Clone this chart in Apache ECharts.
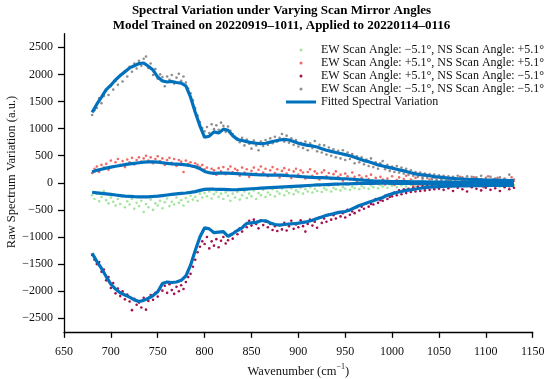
<!DOCTYPE html>
<html><head><meta charset="utf-8">
<script src="https://cdn.jsdelivr.net/npm/echarts@6/dist/echarts.min.js"></script>
<style>html,body{margin:0;padding:0;background:#fff}#c{width:550px;height:379px}</style>
</head><body><div id="c"></div><script>
// ---- data ----
const titleLines = ['Spectral Variation under Varying Scan Mirror Angles', 'Model Trained on 20220919\u20131011, Applied to 20220114\u20130116'];
const seriesNames = [
  'EW Scan Angle: \u22125.1\u00b0, NS Scan Angle: +5.1\u00b0',
  'EW Scan Angle: +5.1\u00b0, NS Scan Angle: +5.1\u00b0',
  'EW Scan Angle: +5.1\u00b0, NS Scan Angle: \u22125.1\u00b0',
  'EW Scan Angle: \u22125.1\u00b0, NS Scan Angle: \u22125.1\u00b0'
];
const fitName = 'Fitted Spectral Variation';
const yTicks = [-2500,-2000,-1500,-1000,-500,0,500,1000,1500,2000,2500];

const wavenumberFit = [680,685,690,695,700,705,710,715,720,725,
730,735,740,745,750,755,760,765,770,775,
780,785,790,795,800,805,810,815,820,825,
830,835,840,845,850,855,860,865,870,875,
880,885,890,895,900,905,910,915,920,925,
930,935,940,945,950,955,960,965,970,975,
980,985,990,995,1000,1005,1010,1015,1020,1025,
1030,1035,1040,1045,1050,1055,1060,1065,1070,1075,
1080,1085,1090,1095,1100,1105,1110,1115,1120,1125,
1130];

const wavenumberPts = [680,682.5,685,687.5,690,692.5,695,697.5,700,702.5,
705,707.5,710,712.5,715,717.5,720,722.5,725,727.5,
730,732.5,735,737.5,740,742.5,745,747.5,750,752.5,
755,757.5,760,762.5,765,767.5,770,772.5,775,777.5,
780,782.5,785,787.5,790,792.5,795,797.5,800,802.5,
805,807.5,810,812.5,815,817.5,820,822.5,825,827.5,
830,832.5,835,837.5,840,842.5,845,847.5,850,852.5,
855,857.5,860,862.5,865,867.5,870,872.5,875,877.5,
880,882.5,885,887.5,890,892.5,895,897.5,900,902.5,
905,907.5,910,912.5,915,917.5,920,922.5,925,927.5,
930,932.5,935,937.5,940,942.5,945,947.5,950,952.5,
955,957.5,960,962.5,965,967.5,970,972.5,975,977.5,
980,982.5,985,987.5,990,992.5,995,997.5,1000,1002.5,
1005,1007.5,1010,1012.5,1015,1017.5,1020,1022.5,1025,1027.5,
1030,1032.5,1035,1037.5,1040,1042.5,1045,1047.5,1050,1052.5,
1055,1057.5,1060,1062.5,1065,1067.5,1070,1072.5,1075,1077.5,
1080,1082.5,1085,1087.5,1090,1092.5,1095,1097.5,1100,1102.5,
1105,1107.5,1110,1112.5,1115,1117.5,1120,1122.5,1125,1127.5,
1130];

// raw points: EW -5.1, NS +5.1 (green)
const ptsGreen = [-230,-300,-200,-340,-260,-150,-320,-380,-270,-350,
-420,-300,-390,-250,-450,-340,-400,-300,-480,-370,
-430,-330,-540,-390,-450,-310,-500,-380,-420,-330,
-470,-360,-290,-430,-350,-400,-270,-370,-320,-420,
-280,-350,-240,-310,-260,-330,-200,-270,-190,-250,
-160,-290,-210,-170,-260,-200,-300,-180,-240,-330,
-200,-270,-170,-310,-230,-160,-280,-200,-250,-140,
-300,-190,-230,-130,-260,-180,-220,-120,-250,-160,
-200,-110,-230,-150,-190,-100,-210,-140,-170,-90,
-200,-120,-160,-80,-180,-110,-150,-60,-170,-100,
-130,-50,-160,-90,-120,-40,-140,-80,-110,-30,
-130,-70,-100,-20,-120,-60,-90,-10,-110,-50,
-80,0,-100,-40,-70,10,-90,-30,-60,20,
-80,-20,-50,30,-70,-10,-40,40,-60,0,
-30,50,-50,10,-20,40,-40,20,-10,50,
-30,30,-60,20,-20,40,-50,10,-30,50,
-40,0,-70,30,-20,40,-60,10,-30,30,
-50,0,-40,20,-70,10,-30,40,-50,-10,
-40];

// raw points: EW +5.1, NS +5.1 (red)
const ptsRed = [180,260,300,200,330,280,350,240,410,300,
380,440,330,400,290,430,380,460,340,420,
470,390,450,500,410,470,360,440,490,400,
450,330,420,460,370,440,310,420,390,200,
410,350,380,300,360,330,290,330,250,280,
200,260,230,150,270,210,290,160,250,300,
200,260,230,130,280,190,250,110,220,280,
170,240,300,190,260,120,230,290,180,250,
100,220,270,170,240,90,210,260,150,230,
190,80,200,250,130,210,170,60,190,230,
120,180,70,160,210,110,150,40,170,120,
60,190,110,20,140,90,0,120,70,150,
30,90,-20,110,60,-30,80,20,120,-40,
50,100,-10,70,130,0,60,-60,90,20,
-30,80,140,10,60,-50,100,30,-20,70,
120,-10,50,-70,90,20,-40,110,40,-20,
80,0,-60,100,30,-30,70,-80,50,120,
-10,60,-50,90,20,-40,80,10,-70,100,
40];

// raw points: EW +5.1, NS -5.1 (crimson)
const ptsCrimson = [-1330,-1420,-1500,-1460,-1640,-1600,-1800,-1740,-1940,-1850,
-2040,-1950,-2090,-2000,-2150,-2060,-2190,-2350,-2140,-2250,
-2210,-2300,-2120,-2340,-2180,-2070,-2160,-2030,-2100,-1960,
-1990,-1900,-2030,-1870,-1980,-2050,-1920,-2000,-1890,-1960,
-1830,-1740,-1680,-1550,-1420,-1280,-1180,-1080,-1130,-1000,
-1210,-1080,-1160,-1040,-1190,-1070,-1000,-1120,-1060,-960,
-1030,-900,-950,-840,-900,-780,-820,-700,-790,-680,
-760,-840,-690,-780,-720,-820,-760,-870,-800,-890,
-780,-860,-740,-880,-800,-700,-850,-770,-820,-690,
-800,-900,-760,-680,-790,-720,-830,-640,-740,-660,
-720,-590,-680,-600,-660,-540,-620,-560,-640,-500,
-590,-530,-560,-450,-510,-440,-480,-380,-440,-390,
-400,-300,-370,-320,-330,-240,-300,-260,-250,-180,
-230,-140,-210,-120,-190,-110,-170,-90,-160,-70,
-150,-60,-140,-50,-130,-40,-120,-30,-110,-20,
-130,-40,-100,-10,-150,-30,-90,0,-120,-40,
-160,-20,-80,10,-110,-50,-140,-10,-90,-30,
-130,0,-100,-40,-150,-20,-80,10,-120,-60,
-90];

// raw points: EW -5.1, NS -5.1 (gray)
const ptsGray = [1250,1340,1380,1560,1470,1600,1700,1620,1790,1720,
1880,1810,1990,1870,2060,1960,2140,2050,2200,2110,
2250,2160,2290,2330,2120,2200,1990,2100,1920,2000,
1950,1780,1960,1900,1990,1830,1940,2010,1880,1960,
1850,1740,1650,1520,1380,1240,1120,1010,950,1030,
920,1080,990,1060,980,1110,1050,940,1040,960,
900,850,820,750,830,690,800,720,630,780,
690,600,760,680,790,700,820,730,850,760,
830,900,760,870,740,820,700,790,670,740,
640,760,600,730,640,770,580,700,560,690,
520,650,500,620,470,590,450,600,420,560,
440,530,360,490,380,470,340,430,310,450,
290,380,260,360,400,250,330,220,300,200,
310,190,280,170,260,150,230,130,200,110,
190,100,170,90,160,70,150,60,140,50,
130,40,120,30,110,20,130,10,100,30,
120,0,110,20,100,-10,130,10,90,-20,
110,0,80,-30,100,10,70,-20,150,0,
60];

// fitted curves
const fitGreen = [-175,-185,-195,-205,-215,-225,-235,-245,-250,-255,
-258,-260,-258,-252,-245,-235,-225,-215,-205,-195,
-188,-178,-162,-140,-122,-115,-118,-120,-122,-125,
-128,-125,-120,-115,-110,-105,-100,-95,-90,-85,
-80,-75,-70,-65,-60,-55,-50,-45,-40,-36,
-32,-28,-25,-22,-20,-18,-15,-13,-11,-10,
-9,-8,-8,-8,-9,-10,-10,-11,-12,-12,
-13,-14,-15,-15,-16,-17,-18,-18,-19,-20,
-20,-20,-21,-22,-22,-23,-24,-24,-25,-25,
-25];
const fitRed = [200,230,250,270,290,305,320,335,350,360,
370,380,385,385,380,370,360,350,345,340,
330,315,295,260,210,185,175,180,178,180,
172,168,162,160,155,150,148,145,143,140,
140,136,130,125,118,112,106,100,96,94,
90,86,82,78,75,70,62,55,48,42,
37,33,30,27,24,22,20,20,18,18,
16,16,15,15,15,15,15,15,15,15,
15,15,15,15,15,15,15,15,15,15,
15];
const fitCrimson = [-1300,-1450,-1580,-1730,-1870,-1960,-2030,-2070,-2110,-2160,
-2190,-2170,-2130,-2080,-2010,-1860,-1830,-1840,-1830,-1800,
-1720,-1520,-1250,-1000,-830,-850,-920,-910,-900,-990,
-940,-880,-830,-750,-740,-730,-700,-700,-740,-770,
-780,-770,-760,-755,-745,-730,-715,-690,-660,-630,
-600,-580,-560,-540,-530,-500,-460,-420,-390,-360,
-330,-300,-270,-230,-200,-180,-160,-140,-130,-115,
-100,-90,-80,-75,-70,-65,-62,-60,-58,-56,
-55,-54,-53,-52,-51,-50,-50,-50,-50,-50,
-50];
const fitGray = [1300,1450,1580,1720,1800,1900,1980,2050,2120,2160,
2200,2210,2150,2080,1950,1880,1860,1870,1850,1840,
1790,1580,1300,1050,840,860,940,920,990,970,
870,800,780,760,740,730,720,730,750,770,
790,800,790,760,730,710,690,680,660,630,
600,580,560,540,520,500,470,440,410,390,
360,330,310,290,270,250,230,210,185,165,
150,140,130,115,105,95,85,80,75,70,
65,60,58,55,52,50,48,45,45,42,
40];

// ---- chart ----
const FONT = '"Liberation Serif","Times New Roman",serif';
const TXT = '#111';
const ptColors = ['#a2e59c', '#ee6a64', '#a3124f', '#8e8e8e'];
const BLUE = '#0072BD';
function zip(xs, ys) { return xs.map((x, i) => [x, ys[i]]); }

const ptsAll = [ptsGreen, ptsRed, ptsCrimson, ptsGray];
const fitsAll = [fitGreen, fitRed, fitCrimson, fitGray];

const series = [];
ptsAll.forEach((p, k) => {
  series.push({
    type: 'scatter', name: seriesNames[k], data: zip(wavenumberPts, p),
    symbol: 'circle', symbolSize: 2.6, itemStyle: { color: ptColors[k], opacity: 1 },
    z: 2, silent: true
  });
});
fitsAll.forEach((f) => {
  series.push({
    type: 'line', name: fitName, data: zip(wavenumberFit, f),
    symbol: 'none', showSymbol: false, smooth: false,
    lineStyle: { color: BLUE, width: 3.2 }, itemStyle: { color: BLUE },
    z: 3, silent: true
  });
});

// legend icons (box 30 x 13): small dot, and a short thick bar for the fitted line
const dotIcon = 'path://M0,0 M30,13 M13.5,6.5 a1.5,1.5 0 1,0 3,0 a1.5,1.5 0 1,0 -3,0 Z';
const barIcon = 'path://M0,0 M30,13 M0,5 L30,5 L30,8 L0,8 Z';
const legendData = seriesNames.map(n => ({ name: n, icon: dotIcon })).concat([{ name: fitName, icon: barIcon }]);

const chart = echarts.init(document.getElementById('c'), null, { renderer: 'canvas' });
chart.setOption({
  animation: false,
  backgroundColor: '#fff',
  grid: { left: 64, right: 17.3, top: 33.75, bottom: 47.15, containLabel: false, outerBoundsMode: 'none' },
  xAxis: {
    type: 'value', min: 650, max: 1150, interval: 50,
    axisLine: { onZero: false, lineStyle: { color: '#000', width: 1.3 } },
    axisTick: { length: 6, lineStyle: { color: '#000', width: 1.3 } },
    axisLabel: { color: TXT, fontFamily: FONT, fontSize: 12, margin: 14, formatter: v => String(v) },
    splitLine: { show: false },
    name: '{n|Wavenumber (cm}{s|\u22121}{n|)}', nameLocation: 'middle', nameGap: 25,
    nameTextStyle: {
      rich: {
        n: { fontFamily: FONT, fontSize: 12.5, color: TXT, lineHeight: 15, verticalAlign: 'bottom' },
        s: { fontFamily: FONT, fontSize: 8, color: TXT, lineHeight: 15, verticalAlign: 'top' }
      }
    }
  },
  yAxis: {
    type: 'value', min: -2750, max: 2750,
    axisLine: { show: true, onZero: false, lineStyle: { color: '#000', width: 1.3 } },
    axisTick: { show: true, length: 6, customValues: yTicks, lineStyle: { color: '#000', width: 1.3 } },
    axisLabel: { customValues: yTicks, color: TXT, fontFamily: FONT, fontSize: 12, margin: 11,
      formatter: v => String(v).replace('-', '\u2212') },
    splitLine: { show: false }
  },
  legend: {
    orient: 'vertical', left: 286, top: 43.5, padding: 0,
    itemWidth: 30, itemHeight: 13, itemGap: 0,
    textStyle: { fontFamily: FONT, fontSize: 12, color: TXT, lineHeight: 13 },
    data: legendData,
    selectedMode: false
  },
  graphic: [
    { type: 'text', x: 281.5, y: 10.8, silent: true,
      style: { text: titleLines[0], textAlign: 'center', textVerticalAlign: 'middle',
        fontFamily: FONT, fontWeight: 'bold', fontSize: 13, fill: '#000' } },
    { type: 'text', x: 281.5, y: 25.2, silent: true,
      style: { text: titleLines[1], textAlign: 'center', textVerticalAlign: 'middle',
        fontFamily: FONT, fontWeight: 'bold', fontSize: 13, fill: '#000' } },
    { type: 'text', x: 12, y: 172, rotation: Math.PI / 2, silent: true,
      style: { text: 'Raw Spectrum Variation (a.u.)', textAlign: 'center', textVerticalAlign: 'middle',
        fontFamily: FONT, fontSize: 12.5, fill: TXT } }
  ],
  series: series
});
</script></body></html>
